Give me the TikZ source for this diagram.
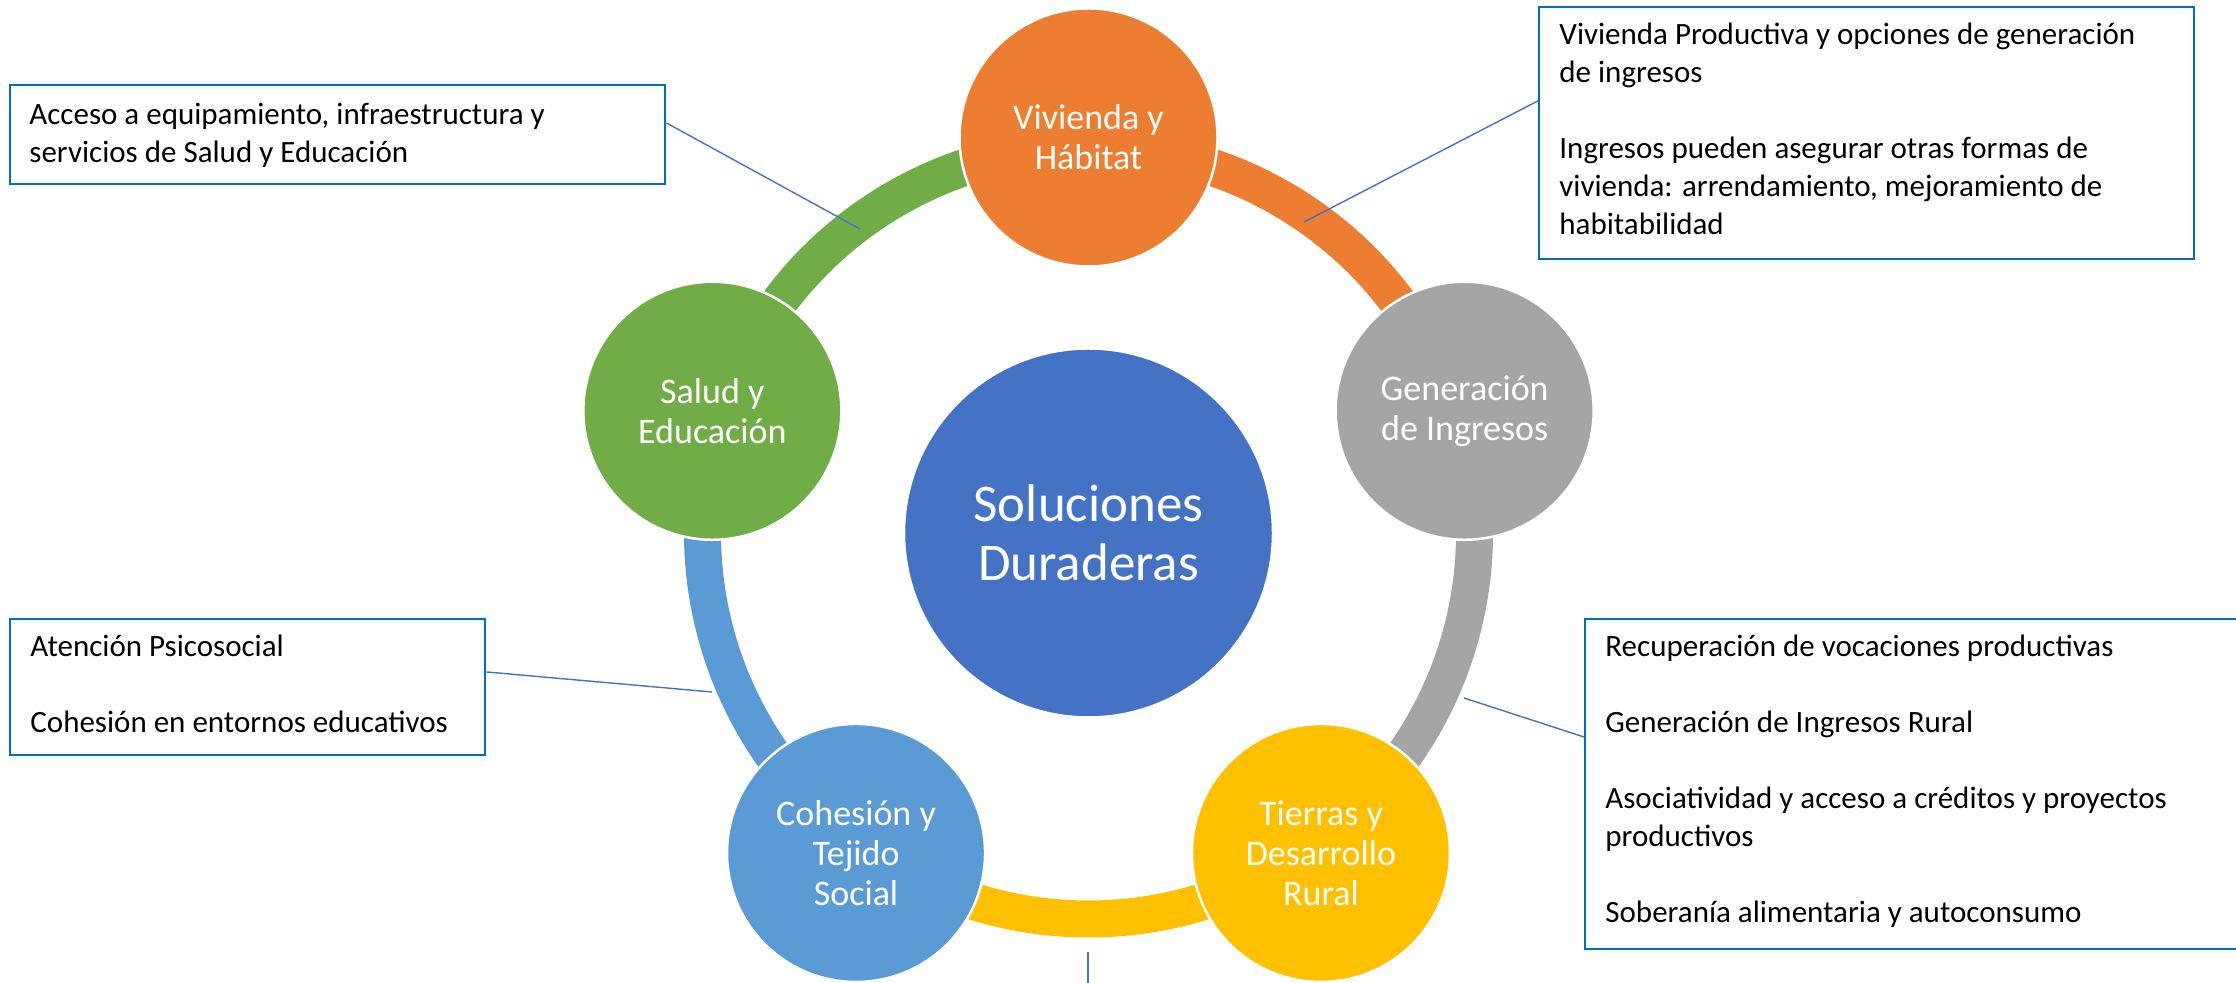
\documentclass[tikz,border=0pt]{standalone}
\usepackage{fontspec}
\setmainfont{Carlito}
\usetikzlibrary{calc}
\definecolor{cOrange}{HTML}{ED7D31}
\definecolor{cGray}{HTML}{A5A5A5}
\definecolor{cYellow}{HTML}{FFC000}
\definecolor{cLightBlue}{HTML}{5B9BD5}
\definecolor{cGreen}{HTML}{70AD47}
\definecolor{cBlue}{HTML}{4472C4}
\definecolor{cBox}{HTML}{0070C0}
\definecolor{cLine}{HTML}{4472C4}
\begin{document}
\begin{tikzpicture}[x=0.5pt,y=0.5pt,
  hub/.style={circle, fill=cBlue, draw=white, line width=1.25pt, minimum size=184.5pt, inner sep=0pt, text=white, align=center, font=\fontsize{26.5}{29.5}\selectfont},
  spoke/.style={circle, draw=white, line width=1.25pt, minimum size=129pt, inner sep=0pt, text=white, align=center, font=\fontsize{18}{20}\selectfont},
  ring/.style={line width=18.5pt},
  callbox/.style={draw=cBox, line width=1.2pt, rectangle, inner sep=0pt, anchor=north west},
  boxtext/.style={anchor=base west, align=left, inner sep=0pt, font=\fontsize{15.5}{19}\selectfont},
  callout/.style={draw=cLine, line width=0.7pt}]
\useasboundingbox (0,0) rectangle (2236,983);
\coordinate (O) at (1088.5,450);
% ring arcs
\draw[ring, cOrange] (O) ++(90:386) arc[start angle=90, end angle=18, radius=193pt];
\draw[ring, cGray] (O) ++(18:386) arc[start angle=18, end angle=-54, radius=193pt];
\draw[ring, cYellow] (O) ++(-54:386) arc[start angle=-54, end angle=-126, radius=193pt];
\draw[ring, cLightBlue] (O) ++(-126:386) arc[start angle=-126, end angle=-198, radius=193pt];
\draw[ring, cGreen] (O) ++(162:386) arc[start angle=162, end angle=90, radius=193pt];
% circles
\node[hub] (hub) at (O) {Soluciones\\Duraderas};
\node[spoke, fill=cOrange] (viv) at ($(O)+(90:395.5)$) {Vivienda y\\Hábitat};
\node[spoke, fill=cGray] (gen) at ($(O)+(18:395.5)$) {Generación\\de Ingresos};
\node[spoke, fill=cYellow] (tie) at ($(O)+(-54:395.5)$) {Tierras y\\Desarrollo\\Rural};
\node[spoke, fill=cLightBlue] (coh) at ($(O)+(-126:395.5)$) {Cohesión y\\Tejido\\Social};
\node[spoke, fill=cGreen] (sal) at ($(O)+(162:395.5)$) {Salud y\\Educación};
% boxes
\node[callbox, minimum width=327.5pt, minimum height=49.5pt] (b1) at (9,899) {};
\node[callbox, minimum width=327.5pt, minimum height=126pt] (b2) at (1538,977) {};
\node[callbox, minimum width=237.5pt, minimum height=68pt] (b3) at (9,365) {};
\node[callbox, minimum width=330.5pt, minimum height=165pt] (b4) at (1584,365) {};
% box texts (anchored at the baseline of the last line)
\node[boxtext] (t1) at (29,820) {Acceso a equipamiento, infraestructura y\\servicios de Salud y Educación};
\node[boxtext] (t2) at (1559,748) {Vivienda Productiva y opciones de generación\\de ingresos\\[19pt]Ingresos pueden asegurar otras formas de\\vivienda: arrendamiento, mejoramiento de\\habitabilidad};
\node[boxtext] (t3) at (30,250) {Atención Psicosocial\\[19pt]Cohesión en entornos educativos};
\node[boxtext] (t4) at (1605,60) {Recuperación de vocaciones productivas\\[19pt]Generación de Ingresos Rural\\[19pt]Asociatividad y acceso a créditos y proyectos\\productivos\\[19pt]Soberanía alimentaria y autoconsumo};
% connectors
\coordinate (e1) at (860,754);
\coordinate (e2) at (1304,761);
\coordinate (e3) at (712,291);
\coordinate (e4) at (1464,285);
\coordinate (e5a) at (1088,31);
\coordinate (e5b) at (1088,-10);
\draw[callout] ($(b1.north east)!0.384!(b1.south east)$) -- (e1);
\draw[callout] ($(b2.north west)!0.373!(b2.south west)$) -- (e2);
\draw[callout] ($(b3.north east)!0.39!(b3.south east)$) -- (e3);
\draw[callout] ($(b4.north west)!0.358!(b4.south west)$) -- (e4);
\draw[callout] (e5a) -- (e5b);
\end{tikzpicture}
\end{document}
